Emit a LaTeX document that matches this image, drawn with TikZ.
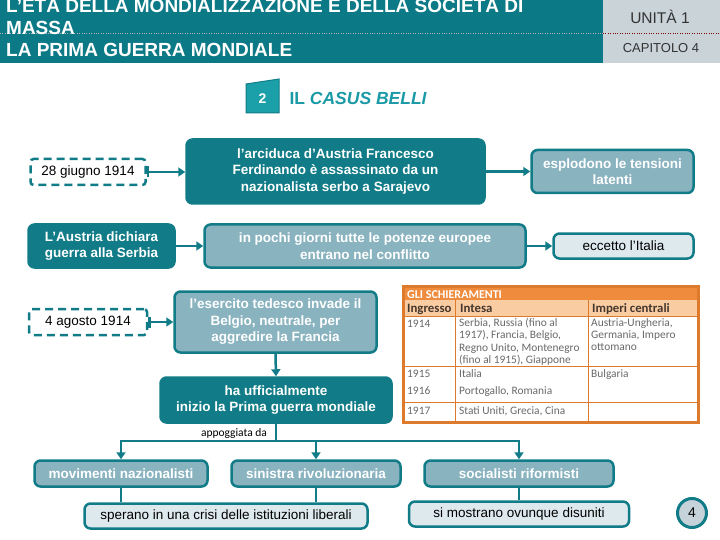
\documentclass[tikz,border=0pt]{standalone}
\usepackage{fontspec}
\setmainfont{Liberation Sans}
\newfontfamily\tabfont{Carlito}
\usepackage{xcolor}
\usepackage{tikz}
\usetikzlibrary{arrows.meta, positioning, calc}

\definecolor{hdrteal}{RGB}{12,122,134}
\definecolor{mapteal}{RGB}{17,124,135}
\definecolor{maplight}{RGB}{138,179,192}
\definecolor{mappale}{RGB}{222,233,238}
\definecolor{hdrgray}{RGB}{201,211,216}
\definecolor{tagteal}{RGB}{27,160,169}
\definecolor{titleteal}{RGB}{26,154,166}
\definecolor{circgray}{RGB}{197,210,217}
\definecolor{taborange}{RGB}{222,122,43}
\definecolor{tabbar}{RGB}{238,139,61}
\definecolor{tabpeach}{RGB}{250,204,162}
\definecolor{tabtext}{RGB}{105,105,105}
\definecolor{tabhead}{RGB}{70,55,45}

\newcommand{\boxfont}{\fontsize{13.5}{16.5}\selectfont\bfseries}
\newcommand{\plainfont}{\fontsize{13.5}{16.5}\selectfont}
\newcommand{\titlefont}{\fontsize{19}{22}\selectfont\bfseries}
\newcommand{\cellfont}{\tabfont\fontsize{11.4}{12.4}\selectfont}
\newcommand{\headfont}{\tabfont\fontsize{12.8}{14}\selectfont\bfseries}

\tikzset{
  box/.style={rectangle, rounded corners=6pt, line width=2.5pt, draw=mapteal, align=center, inner sep=3pt},
  darkbox/.style={box, fill=mapteal, text=white, font=\boxfont},
  lightbox/.style={box, fill=maplight, text=white, font=\boxfont},
  palebox/.style={box, fill=mappale, text=black, font=\plainfont},
  datebox/.style={rectangle, rounded corners=3pt, draw=mapteal, line width=2.5pt, dash pattern=on 8pt off 5pt, text=black, font=\plainfont},
  link/.style={draw=mapteal, line width=2.5pt, -{Triangle[length=7pt,width=9pt]}},
  barlink/.style={draw=mapteal, line width=2.5pt, {Bar[width=11pt]}-{Triangle[length=7pt,width=9pt]}},
  branch/.style={draw=mapteal, line width=2.5pt},
  cell/.style={anchor=base west, inner sep=0pt, font=\cellfont, text=tabtext, align=left},
  headcell/.style={anchor=base west, inner sep=0pt, font=\headfont, text=tabhead},
}

\begin{document}
\begin{tikzpicture}[x=1pt, y=-1pt]
\useasboundingbox (0,0) rectangle (720,540);

% header
\fill[hdrteal] (0,0) rectangle (603,63);
\fill[hdrgray] (603,0) rectangle (720,63);
\draw[dotted, gray!60] (0,33) -- (603,33);
\draw[dotted, red!50!black] (603,33) -- (720,33);
\node[anchor=base west, inner sep=0pt, font=\titlefont, text=white] (riga1) at (6,13) {L’ETÀ DELLA MONDIALIZZAZIONE E DELLA SOCIETÀ DI};
\node[anchor=base west, inner sep=0pt, font=\titlefont, text=white] (riga2) at (6,35) {MASSA};
\node[anchor=base west, inner sep=0pt, font=\titlefont, text=white] (riga3) at (6,57) {LA PRIMA GUERRA MONDIALE};
\node[font=\fontsize{15.5}{17}\selectfont, text=black!80] (unita) at (660,17) {UNITÀ 1};
\node[font=\fontsize{13}{15}\selectfont, text=black!80] (capitolo) at (661,48) {CAPITOLO 4};

% paragraph title
\filldraw[fill=tagteal, draw=mapteal, line width=1pt] (246,84) -- (279,79) -- (279,113) -- (246,113) -- cycle;
\node[text=white, font=\fontsize{14}{16}\selectfont\bfseries] (numero) at (262.5,99) {2};
\node[anchor=west, text=titleteal, font=\fontsize{17.5}{20}\selectfont\bfseries] (casus) at (286,98) {IL \textit{CASUS BELLI}};

% first rows
\node[datebox, minimum width=115pt, minimum height=26pt] (giugno) at (88,172) {28 giugno 1914};
\node[darkbox, minimum width=298pt, minimum height=64pt] (arciduca) at (335.5,171.5) {l’arciduca d’Austria Francesco\\Ferdinando è assassinato da un\\nazionalista serbo a Sarajevo};
\node[lightbox, minimum width=162pt, minimum height=43pt] (tensioni) at (612.5,171.5) {esplodono le tensioni\\latenti};
\node[darkbox, minimum width=146pt, minimum height=43pt] (austria) at (101.5,246) {L’Austria dichiara\\guerra alla Serbia};
\node[lightbox, minimum width=321pt, minimum height=43pt] (potenze) at (365,246) {in pochi giorni tutte le potenze europee\\entrano nel conflitto};
\node[palebox, minimum width=140pt, minimum height=25pt] (italia) at (623.5,246) {eccetto l'Italia};
\node[datebox, minimum width=118pt, minimum height=26pt] (agosto) at (88,322) {4 agosto 1914};
\node[lightbox, minimum width=202pt, minimum height=61pt] (esercito) at (275.5,322) {l’esercito tedesco invade il\\Belgio, neutrale, per\\aggredire la Francia};
\node[darkbox, minimum width=231pt, minimum height=45pt] (guerra) at (276,400) {ha ufficialmente\\inizio la Prima guerra mondiale};

\draw[barlink] (giugno.east) -- (arciduca.west |- giugno.east);
\draw[link] (arciduca.east |- tensioni.west) -- (tensioni.west);
\draw[link] (austria.east) -- (potenze.west);
\draw[link] (potenze.east) -- (italia.west);
\draw[barlink] (agosto.east) -- (esercito.west |- agosto.east);
\draw[link] (esercito.south) -- (guerra.north);

% supporters
\node[font=\tabfont\fontsize{11.5}{13}\selectfont] (appoggiata) at (234,433) {appoggiata da};
\coordinate (snodo) at (276,441);
\node[lightbox, minimum width=173pt, minimum height=26pt] (nazionalisti) at (121,473.5) {movimenti nazionalisti};
\node[lightbox, minimum width=169pt, minimum height=26pt] (rivoluzionaria) at (316,473.5) {sinistra rivoluzionaria};
\node[lightbox, minimum width=189pt, minimum height=26pt] (riformisti) at (519,473.5) {socialisti riformisti};
\node[palebox, minimum width=283pt, minimum height=25pt] (sperano) at (226,516) {sperano in una crisi delle istituzioni liberali};
\node[palebox, minimum width=220pt, minimum height=25pt] (disuniti) at (519,514) {si mostrano ovunque disuniti};

\draw[branch] (guerra.south) -- (snodo);
\draw[branch, line cap=rect] (snodo -| nazionalisti) -- (snodo -| riformisti);
\foreach \n in {nazionalisti, rivoluzionaria, riformisti}
  \draw[link] (snodo -| \n) -- (\n.north);
\draw[branch] (nazionalisti) -- (nazionalisti |- sperano.north);
\draw[branch] (rivoluzionaria) -- (rivoluzionaria |- sperano.north);
\draw[branch] (riformisti) -- (riformisti |- disuniti.north);

% page number
\node[circle, draw=mapteal, line width=3pt, fill=circgray, minimum size=29pt, inner sep=0pt, font=\fontsize{14}{16}\selectfont] (pagina) at (692,513) {4};

% table
\fill[taborange] (402,285) rectangle (700,424);
\fill[tabbar] (405,288) rectangle (697,300);
\fill[white] (405,300) rectangle (697,421);
\fill[tabpeach] (405,300) rectangle (697,316);
\draw[taborange, line width=1pt] (405,316) -- (697,316) (405,366) -- (697,366) (405,402) -- (697,402)
  (455,300) -- (455,421) (588,300) -- (588,421);
\node[anchor=base west, inner sep=0pt, font=\tabfont\fontsize{12}{14}\selectfont\bfseries, text=white] (schier) at (407,298) {GLI SCHIERAMENTI};
\node[headcell] (ingresso) at (407,312.5) {Ingresso};
\node[headcell] (intesa) at (460,312.5) {Intesa};
\node[headcell] (imperi) at (592,312.5) {Imperi centrali};
\node[cell] (a1914) at (407,327) {1914};
\node[cell, anchor=north west] (i1914) at (459,318) {Serbia, Russia (fino al\\1917), Francia, Belgio,\\Regno Unito, Montenegro\\(fino al 1915), Giappone};
\node[cell, anchor=north west] (c1914) at (591,318) {Austria-Ungheria,\\Germania, Impero\\ottomano};
\node[cell] (a1915) at (407,377) {1915};
\node[cell] (i1915) at (459,377) {Italia};
\node[cell] (c1915) at (591,377) {Bulgaria};
\node[cell] (a1916) at (407,394) {1916};
\node[cell] (i1916) at (459,394) {Portogallo, Romania};
\node[cell] (a1917) at (407,414) {1917};
\node[cell] (i1917) at (459,414) {Stati Uniti, Grecia, Cina};

\end{tikzpicture}
\end{document}
